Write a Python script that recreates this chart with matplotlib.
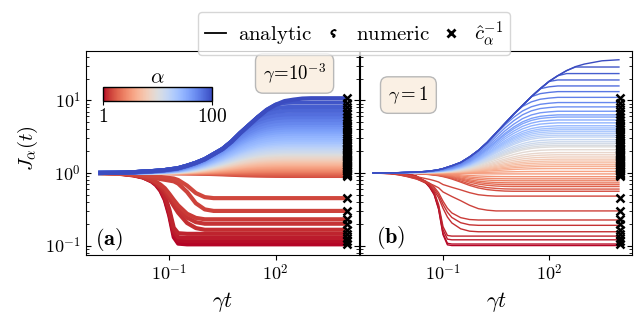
import numpy as np
import matplotlib
matplotlib.use('Agg')
import matplotlib.pyplot as plt
from matplotlib.lines import Line2D
from matplotlib.colors import Normalize
from matplotlib.cm import ScalarMappable

plt.rcParams['mathtext.fontset'] = 'cm'
plt.rcParams['font.family'] = 'serif'
plt.rcParams['font.serif'] = ['DejaVu Serif']

# time grid (log10 of gamma*t)
log_t = [-3, -2.5, -2.25, -2, -1.75, -1.5, -1.375, -1.25, -1.125, -1, -0.875, -0.75, -0.5, -0.25,
         0, 0.25, 0.5, 0.75, 1, 1.25, 1.5, 1.75, 2, 2.25, 2.5, 2.75, 3, 3.5, 4]

# upper edge of the rising bundle (log10 J)
env_a = [0, 0.002, 0.005, 0.01, 0.02, 0.025, 0.03, 0.035, 0.04, 0.05, 0.057, 0.066, 0.10, 0.14,
         0.19, 0.26, 0.33, 0.43, 0.55, 0.66, 0.77, 0.87, 0.94, 0.99, 1.01, 1.025, 1.03, 1.03, 1.03]
env_b = [0, 0.002, 0.004, 0.008, 0.013, 0.02, 0.027, 0.035, 0.045, 0.06, 0.08, 0.10, 0.145, 0.22,
         0.31, 0.42, 0.55, 0.68, 0.81, 0.93, 1.05, 1.16, 1.26, 1.34, 1.41, 1.465, 1.50, 1.545, 1.56]

# fraction of the final log-value reached at each time
rise_a = [0, 0.003, 0.006, 0.012, 0.022, 0.03, 0.036, 0.043, 0.05, 0.06, 0.07, 0.085, 0.13, 0.19,
          0.27, 0.37, 0.48, 0.60, 0.72, 0.82, 0.90, 0.95, 0.98, 0.995, 1, 1, 1, 1, 1]
drop_a_steep = [0, 0.005, 0.015, 0.03, 0.06, 0.12, 0.17, 0.25, 0.38, 0.60, 0.90, 0.99] + [1] * 17
drop_a_mid = [0, 0.01, 0.025, 0.045, 0.08, 0.14, 0.19, 0.25, 0.33, 0.45, 0.58, 0.70, 0.88, 0.97] + [1] * 15
drop_a_slow = [0, 0.01, 0.03, 0.05, 0.08, 0.12, 0.14, 0.16, 0.18, 0.20, 0.22, 0.28, 0.50, 0.80, 0.96] + [1] * 14
drop_b_steep = [0, 0.003, 0.006, 0.012, 0.05, 0.13, 0.20, 0.30, 0.50, 0.85, 0.99] + [1] * 18
drop_b_mid = [0, 0.01, 0.03, 0.06, 0.10, 0.17, 0.22, 0.30, 0.42, 0.60, 0.75, 0.85, 0.95, 0.99] + [1] * 15
drop_b_slow = [0, 0.02, 0.05, 0.10, 0.16, 0.24, 0.28, 0.33, 0.39, 0.50, 0.56, 0.62, 0.73, 0.85,
               0.94, 0.98] + [1] * 13
fall_b = [0, 0.005, 0.01, 0.02, 0.04, 0.07, 0.09, 0.12, 0.15, 0.20, 0.26, 0.33, 0.50, 0.68,
          0.82, 0.91, 0.96, 0.99] + [1] * 11
rise_b = [0, 0.002, 0.004, 0.008, 0.013, 0.02, 0.025, 0.03, 0.04, 0.05, 0.065, 0.08, 0.13, 0.20,
          0.30, 0.42, 0.55, 0.68, 0.79, 0.88, 0.94, 0.975, 0.99] + [1] * 6

alphas = [1, 2, 3, 4, 5, 6, 7, 8, 9,
          10, 12, 14, 16, 18, 20, 22, 24, 26, 28, 30, 32, 34, 36, 38, 40, 42, 44, 46, 48,
          50, 52, 54, 56, 58, 60, 62, 64, 66, 68, 70, 72, 74, 76, 78, 80, 82, 84, 86, 88,
          90, 92, 94, 96, 98, 100]

# c_hat^{-1} (= long-time value for gamma = 1e-3)
c_inv = [0.104, 0.115, 0.127, 0.145, 0.165, 0.20, 0.23, 0.30, 0.45,
         0.91, 0.94, 0.98, 1.01, 1.05, 1.08, 1.12, 1.16, 1.20, 1.24, 1.29, 1.33, 1.38, 1.43,
         1.48, 1.53, 1.58, 1.64, 1.70, 1.78, 1.84, 1.91, 1.97, 2.04, 2.14, 2.24, 2.34, 2.45,
         2.57, 2.69, 2.85, 3.02, 3.24, 3.47, 3.72, 3.98, 4.27, 4.57, 4.90, 5.37, 5.89, 6.46,
         7.24, 8.13, 9.33, 10.7]

# long-time value for gamma = 1
plateau_b = [0.10, 0.105, 0.12, 0.135, 0.155, 0.19, 0.225, 0.30, 0.48,
             0.56, 0.60, 0.65, 0.69, 0.73, 0.78, 0.83, 0.89, 0.97, 1.05, 1.15, 1.23, 1.30, 1.38,
             1.46, 1.55, 1.66, 1.78, 1.91, 2.09, 2.29, 2.40, 2.54, 2.69, 2.88, 3.13, 3.31, 3.51,
             3.72, 3.94, 4.17, 4.47, 4.90, 5.37, 5.89, 6.31, 7.08, 8.13, 9.33, 11.0, 13.2, 15.8,
             19.1, 23.4, 28.8, 36.3]

shape_a = [drop_a_steep] * 4 + [drop_a_mid] * 3 + [drop_a_slow] * 2 + [rise_a] * 46
shape_b = [drop_b_steep] * 4 + [drop_b_mid] * 3 + [drop_b_slow] * 2 + [fall_b] * 9 + [rise_b] * 37

t = 10.0 ** np.array(log_t)
norm = Normalize(1, 100)
cmap = plt.get_cmap('coolwarm_r')

fig = plt.figure(figsize=(6.34, 3.16), dpi=100)
W, H = 634, 316
ax_a = fig.add_axes([86 / W, 1 - 255 / H, 273 / W, 204 / H])
ax_b = fig.add_axes([360 / W, 1 - 255 / H, 272 / W, 204 / H], sharey=ax_a)

for ax, ends, shapes, env, lw in [(ax_a, c_inv, shape_a, env_a, 3.0),
                                  (ax_b, plateau_b, shape_b, env_b, 1.0)]:
    for a, p, s in zip(alphas, ends, shapes):
        j = np.minimum(10.0 ** np.array(env), p ** np.array(s))
        ax.plot(t, j, color=cmap(norm(a)), lw=lw, solid_capstyle='butt')
    ax.plot([1e4] * len(c_inv), c_inv, ls='none', marker='x', color='k', ms=5.5, mew=1.8, zorder=5)
    ax.set_xscale('log')
    ax.set_yscale('log')
    ax.set_xlim(10 ** -3.35, 10 ** 4.35)
    ax.set_xticks([0.1, 100])
    ax.set_xticklabels([r'$10^{-1}$', r'$10^{2}$'])
    ax.xaxis.set_minor_locator(matplotlib.ticker.NullLocator())
    ax.tick_params(axis='x', direction='out', length=3.5, labelsize=13, pad=3)
    ax.tick_params(axis='y', which='both', direction='in', left=True, right=True)
    ax.tick_params(axis='y', which='major', length=3.5)
    ax.tick_params(axis='y', which='minor', length=2)
    ax.set_xlabel(r'$\gamma t$', fontsize=16, labelpad=4)

ax_a.set_ylim(10 ** -1.13, 10 ** 1.68)
ax_a.set_yticks([0.1, 1, 10])
ax_a.set_yticklabels([r'$10^{-1}$', r'$10^{0}$', r'$10^{1}$'])
ax_a.yaxis.set_minor_formatter(matplotlib.ticker.NullFormatter())
ax_a.tick_params(axis='y', labelsize=13)
plt.setp(ax_b.get_yticklabels(), visible=False)

fig.text(28 / W, 1 - 148 / H, r'$J_\alpha(t)$', rotation=90, ha='center', va='center', fontsize=15)

box = dict(boxstyle='round,pad=0.4', fc='#faf0e4', ec='#b8b8b8', lw=1)
ax_a.text(0.764, 0.89, r'$\gamma\!=\!10^{-3}$', transform=ax_a.transAxes, ha='center',
          va='center', fontsize=13.5, bbox=box)
ax_b.text(0.178, 0.784, r'$\gamma = 1$', transform=ax_b.transAxes, ha='center',
          va='center', fontsize=13.5, bbox=box)
ax_a.text(0.033, 0.05, r'$\mathbf{(a)}$', transform=ax_a.transAxes, fontsize=16)
ax_b.text(0.059, 0.06, r'$\mathbf{(b)}$', transform=ax_b.transAxes, fontsize=16)

# colour bar for alpha
cax = fig.add_axes([103 / W, 1 - 101 / H, 109 / W, 14 / H])
cb = fig.colorbar(ScalarMappable(norm=norm, cmap=cmap), cax=cax, orientation='horizontal',
                  ticks=[1, 100])
cb.set_ticklabels([r'$1$', r'$100$'])
cb.ax.tick_params(labelsize=14, length=3, pad=2)
cb.outline.set_linewidth(1)
cax.set_title(r'$\alpha$', fontsize=15, pad=3)

handles = [Line2D([], [], color='k', lw=1.3),
           Line2D([], [], ls='none', marker=r'$\varsigma$', color='k', ms=5),
           Line2D([], [], ls='none', marker='x', color='k', ms=6, mew=2)]
labels = [r'$\mathrm{analytic}$', r'$\mathrm{numeric}$', r'$\hat{c}_\alpha^{-1}$']
fig.legend(handles, labels, loc='upper center', bbox_to_anchor=(354 / W, 0.995), ncol=3,
           fontsize=15, handlelength=1.0, columnspacing=0.5, handletextpad=0.6,
           borderpad=0.35, edgecolor='#cccccc')

fig.savefig('out.png', dpi=100)
